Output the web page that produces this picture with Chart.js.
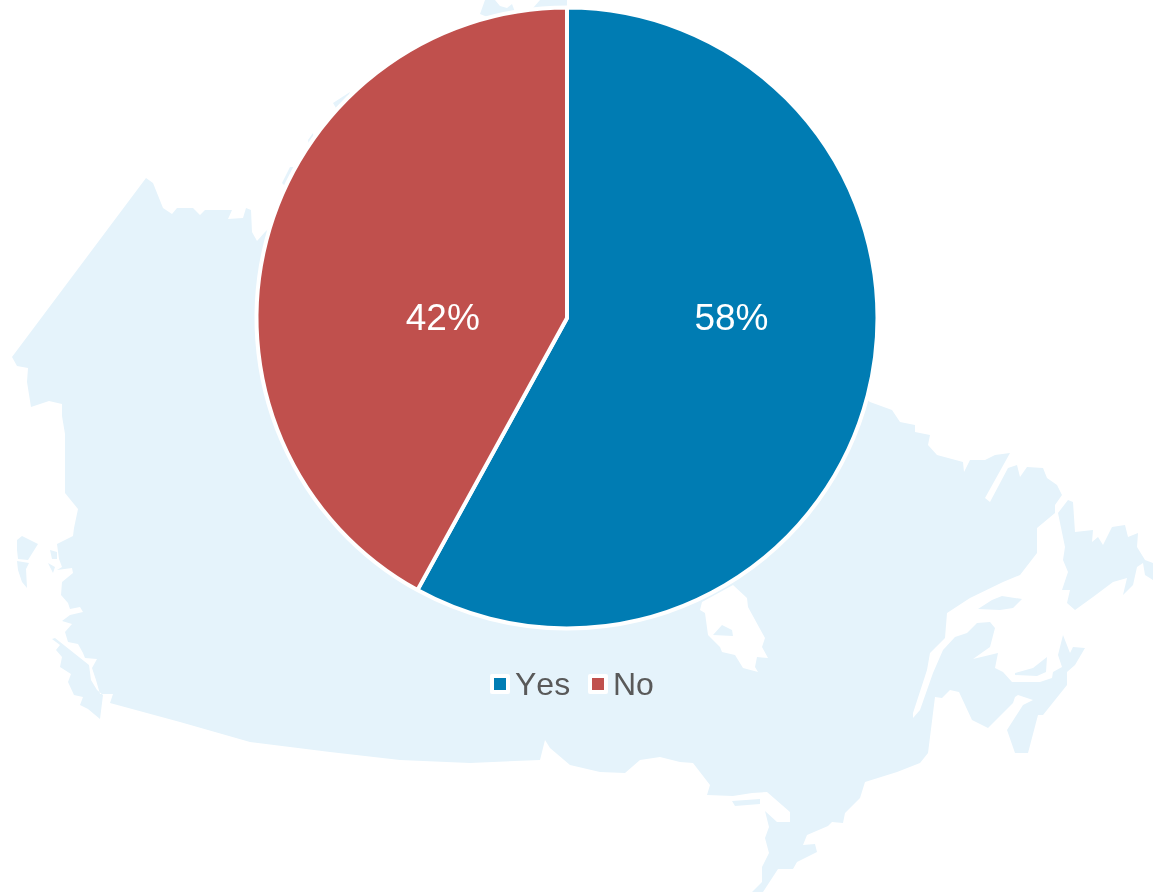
<!DOCTYPE html>
<html>
<head>
<meta charset="utf-8">
<title>Yes / No</title>
<script src="https://cdn.jsdelivr.net/npm/chart.js@4"></script>
<style>
    html, body { margin: 0; padding: 0; background: #fff; overflow: hidden; }
    #mapa { position: absolute; left: 0; top: 0; }
    #wrap { position: absolute; left: 0; top: 0; width: 1153px; height: 893px; }
</style>
</head>
<body>
<!-- Canada silhouette, only a backdrop behind the pie -->
<svg id="mapa" width="1153" height="893" viewBox="0 0 1153 893">
    <path fill="#e5f3fb" fill-rule="evenodd" d="
    M146 178 L153 183 163 208 172 214 177 208 193 208 200 215 205 210 232 210 228 219 243 218 246 208 251 210 252 232 257 241 265 232 300 200 500 100 870 402
    L892 410 900 422 915 425 915 432 930 435 928 445 937 455 963 462 964 472 970 460 985 460 995 455 1010 453 985 498 990 502 1008 468 1017 465 1020 477 1027 467 1043 468 1047 478 1057 485 1062 495 1055 505 1055 513 1037 528 1037 553 1020 575 1003 582 970 598 947 613 945 638 930 653 927 670 913 713 913 718 920 710 933 673 943 650 955 637 967 633 977 623 990 622 995 628 990 647 973 659 998 653 995 668 1003 672 1012 682 1040 682 1052 678 1053 672 1062 667 1058 655 1063 635 1070 653 1073 647 1085 648 1075 665 1067 672 1067 685 1043 715 1038 715 1028 753 1015 753 1007 730 1023 705 1033 700 1018 695 1015 697 1013 703 988 728 972 720 959 692 950 690 942 698 935 697 928 753 920 763 897 772 865 782 860 798 845 813 843 823 832 822 828 826 807 835 803 845 815 844 817 852 797 862 793 869 778 869 763 892 752 892 762 882 762 867 769 853 765 838 769 827 765 811 777 822 790 822 790 812 767 792 752 793 733 796 707 795 710 785 693 763 680 762 660 757 640 760 625 773 600 772 570 765 550 748 545 740 540 760 470 763 400 760 330 752 250 742 180 722 110 703 113 694 100 694 96 680 92 668 97 659 85 658 83 653 78 644 68 642 65 632 72 624 62 621 70 615 83 612 80 607 70 609 68 603 61 595 62 582 73 573 72 568 57 570 62 567 59 559 57 544 73 536 74 528 78 509 65 493 65 434 62 416 62 404 49 401 31 407 27 382 28 368 17 366 12 357 Z
    M702 602 L700 610 705 613 708 635 720 647 722 652 735 655 743 668 758 672 755 667 757 657 768 658 762 647 765 638 748 607 747 598 733 585 Z
    M713 635 L722 625 732 630 733 636 Z
    M55 638 L89 665 91 680 97 690 103 695 100 719 88 709 80 705 83 697 74 695 68 682 71 674 60 667 62 657 56 650 60 645 52 639 Z
    M17 540 L22 536 38 544 28 560 18 559 17 550 Z
    M17 561 L29 563 26 569 27 588 22 582 18 570 Z
    M50 550 L57 552 57 559 52 559 Z
    M48 563 L55 567 53 573 Z
    M732 801 L760 799 760 804 735 806 Z
    M978 609 L992 600 1002 596 1022 599 1013 608 1000 610 Z
    M1015 673 L1033 668 1047 657 1046 672 1037 676 1015 675 Z
    M1058 513 L1068 500 1073 502 1075 532 1093 530 1092 542 1098 537 1103 545 1112 527 1125 525 1128 537 1138 533 1137 547 1145 560 1153 563 1153 580 1145 575 1143 563 1137 567 1133 585 1123 595 1127 578 1113 582 1093 597 1075 610 1067 603 1070 590 1062 590 1068 572 1063 560 1065 547 Z
    M480 14 L485 0 495 0 500 6 507 8 512 4 515 12 495 20 Z
    M533 8 L540 0 567 0 567 8 Z
    M333 103 L350 92 345 105 336 108 Z
    M308 140 L313 133 314 142 309 146 Z
    M282 183 L290 167 295 167 292 180 285 186 Z
    "/>
</svg>
<div id="wrap"><canvas id="myChart"></canvas></div>
<script>
const categorias = ['Yes', 'No'];
const valores = [58, 42];
const cores = ['#007cb3', '#c0504d'];

// the percent labels sit on the centre line, not on the slice bisector
const posLabels = [0.5296, -0.4];
// left edge of each legend entry
const posLegenda = [490, 588];

const pluginLabels = {
    id: 'pluginLabels',
    afterDatasetsDraw(chart) {
        let ctx = chart.ctx;
        let arcs = chart.getDatasetMeta(0).data;
        ctx.save();
        ctx.fontKerning = 'none';
        ctx.fillStyle = '#fff';
        ctx.font = '37px "Liberation Sans"';
        ctx.textAlign = 'center';
        ctx.textBaseline = 'middle';
        arcs.forEach(function(arc, i) {
            ctx.fillText(valores[i] + '%', arc.x + posLabels[i] * arc.outerRadius, arc.y + 2);
        });

        // legend by hand: the built-in one leaves too wide a gap before the text
        ctx.font = '32px "Liberation Sans"';
        ctx.textAlign = 'left';
        categorias.forEach(function(nome, i) {
            let x = posLegenda[i];
            ctx.fillStyle = '#fff';
            ctx.beginPath();
            ctx.roundRect(x, 674, 20, 20, 2);
            ctx.fill();
            ctx.fillStyle = cores[i];
            ctx.fillRect(x + 4, 678, 12, 12);
            ctx.fillStyle = '#595959';
            ctx.fillText(nome, x + 25, 686);
        });
        ctx.restore();
    }
};

new Chart(document.getElementById('myChart').getContext('2d'), {
    type: 'pie',
    data: {
        labels: categorias,
        datasets: [{
            data: valores,
            backgroundColor: cores,
            borderColor: '#fff',
            borderWidth: 4
        }]
    },
    options: {
        responsive: true,
        maintainAspectRatio: false,
        animation: false,
        layout: {
            padding: { top: 5.5, left: 0, right: 19, bottom: 262.5 }
        },
        plugins: {
            tooltip: { enabled: false },
            legend: { display: false }
        }
    },
    plugins: [pluginLabels]
});
</script>
</body>
</html>
